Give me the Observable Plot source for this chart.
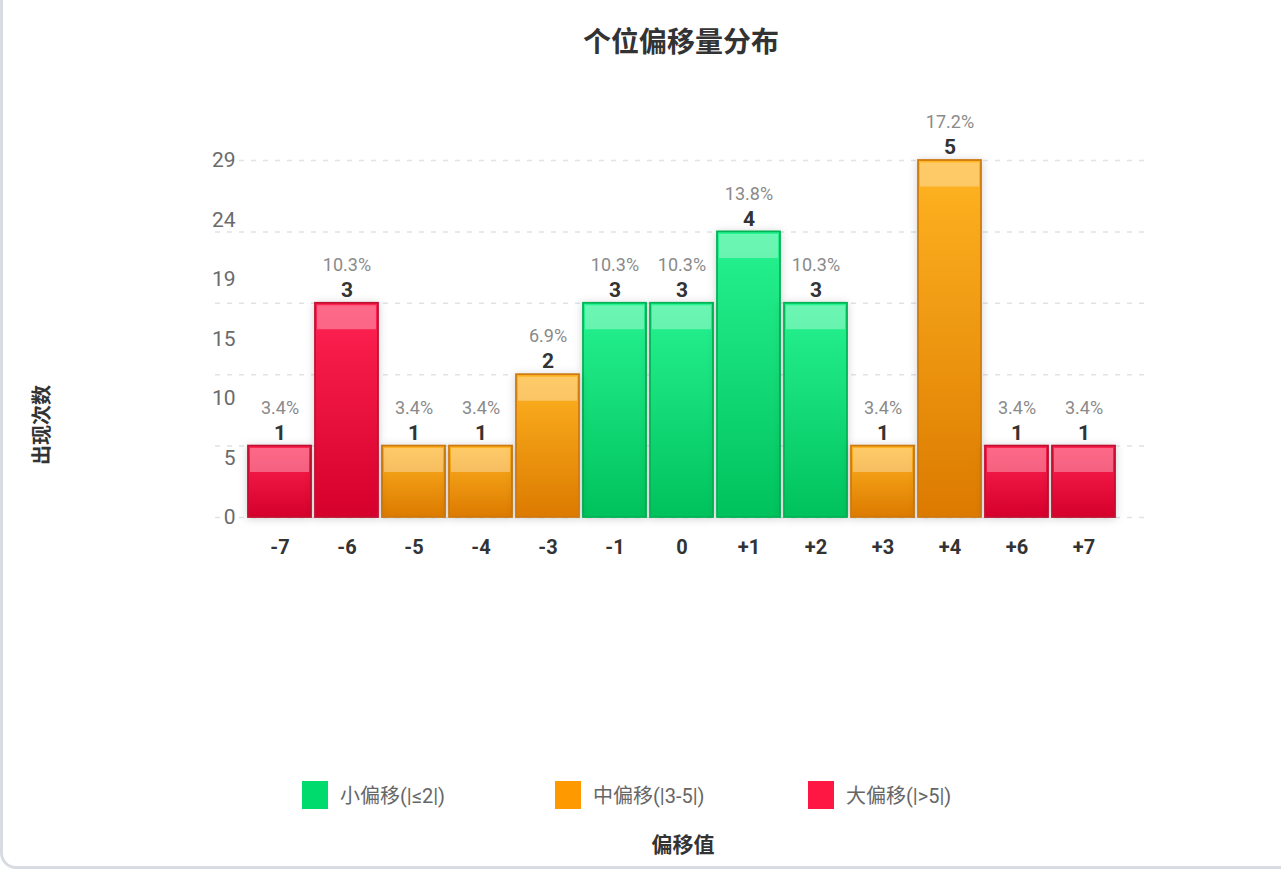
<!DOCTYPE html>
<html>
<head>
<meta charset="utf-8">
<script src="https://cdn.jsdelivr.net/npm/d3@7"></script>
<script src="https://cdn.jsdelivr.net/npm/@observablehq/plot@0.6"></script>
<style>
  html, body { margin: 0; padding: 0; background: #fff; width: 1281px; height: 869px; overflow: hidden; }
  body { position: relative; font-family: "Roboto", "Noto Sans CJK SC", sans-serif; }
  #card { position: absolute; left: 0; top: -30px; width: 1320px; height: 899px; box-sizing: border-box;
          border: 3px solid #d8dbe1; border-radius: 16px; }
  #title { position: absolute; left: 215px; width: 932px; top: 22px; text-align: center;
           font: bold 28px "Noto Sans CJK SC", sans-serif; color: #333; line-height: 36px; }
  #chart { position: absolute; left: 0; top: 0; }
  #ylabel { position: absolute; left: 40px; top: 425px; transform: translate(-50%, -50%) rotate(-90deg);
            font: bold 20px "Noto Sans CJK SC", sans-serif; color: #333; white-space: nowrap; }
  #legend { position: absolute; left: 302px; top: 780px; display: flex; }
  .item { display: flex; align-items: center; width: 253px; }
  .sw { width: 26px; height: 28px; margin-right: 12px; }
  .lt { font-size: 20px; color: #666; font-family: "Roboto", "Noto Sans CJK SC", sans-serif; }
  #xlabel { position: absolute; left: 683px; top: 843px; transform: translate(-50%, -50%);
            font: bold 21px "Noto Sans CJK SC", sans-serif; color: #333; white-space: nowrap; }
  .chart g[aria-label="bar"] rect { filter: drop-shadow(0 1px 4px rgba(0,0,0,0.18)); }
</style>
</head>
<body>
<div id="card"></div>
<div id="chart"></div>
<div id="title">个位偏移量分布</div>
<div id="ylabel">出现次数</div>
<div id="legend"></div>
<div id="xlabel">偏移值</div>
<script>
// ---- data ----
const categories = ["-7", "-6", "-5", "-4", "-3", "-1", "0", "+1", "+2", "+3", "+4", "+6", "+7"];
const counts     = [1, 3, 1, 1, 2, 3, 3, 4, 3, 1, 5, 1, 1];
const groups     = ["large", "large", "medium", "medium", "medium", "small", "small", "small", "small", "medium", "medium", "large", "large"];
const yTickLabels = [0, 5, 10, 15, 19, 24, 29];
const groupKeys   = ["small", "medium", "large"];
const legendLabels = ["小偏移(|≤2|)", "中偏移(|3-5|)", "大偏移(|>5|)"];
const legendColors = ["#00db6e", "#ff9900", "#ff1744"];

// ---- derived ----
const total = d3.sum(counts);
const maxCount = d3.max(counts);
const data = categories.map((c, i) => ({
  cat: c,
  count: counts[i],
  group: groups[i],
  v: counts[i] / maxCount * total,
  pct: (counts[i] / total * 100).toFixed(1) + "%"
}));

const gradStops = {
  small:  ["#26f391", "#00c25c"],
  medium: ["#ffb422", "#dc7a00"],
  large:  ["#ff2352", "#d5002b"]
};
const borderColors = { small: "#00b455", medium: "#cf7a10", large: "#c20f30" };

function defs() {
  const d = d3.create("svg:defs");
  for (const g of groupKeys) {
    const lg = d.append("linearGradient").attr("id", "grad-" + g)
      .attr("x1", 0).attr("y1", 0).attr("x2", 0).attr("y2", 1);
    lg.append("stop").attr("offset", "0%").attr("stop-color", gradStops[g][0]);
    lg.append("stop").attr("offset", "100%").attr("stop-color", gradStops[g][1]);
  }
  return d.node();
}

const gridValues = d3.range(0, maxCount + 1).map(k => k * total / maxCount);
const tickPos = yTickLabels.map((t, i) => ({ label: t, y: i * total / (yTickLabels.length - 1) }));

const fontNum = "'Roboto', sans-serif";

const marks = [
  defs,
  Plot.gridY(gridValues, { stroke: "#dfe3e8", strokeOpacity: 1, strokeDasharray: "5,7", strokeWidth: 1.5 }),
  Plot.text(tickPos, {
    y: "y", text: "label", frameAnchor: "left", dx: 20, textAnchor: "end",
    fill: "#6b6b6b", fontSize: 21, fontFamily: fontNum,
    stroke: "white", strokeWidth: 5
  }),
  ...groupKeys.map(g => Plot.barY(data, {
    filter: d => d.group === g,
    x: "cat", y: "v",
    fill: `url(#grad-${g})`,
    stroke: borderColors[g], strokeWidth: 1.8
  })),
  Plot.tickY(data, {
    x: "cat", y: "v", stroke: "#ffffff", strokeOpacity: 0.32,
    strokeWidth: 24, dy: 14, insetLeft: 2, insetRight: 2
  }),
  Plot.text(data, {
    x: "cat", y: "v", text: d => String(d.count), dy: -13,
    fill: "#333", fontWeight: "bold", fontSize: 21, fontFamily: fontNum
  }),
  Plot.text(data, {
    x: "cat", y: "v", text: "pct", dy: -38,
    fill: "#8a8a8a", fontSize: 18, fontFamily: fontNum
  }),
  Plot.axisX({
    tickSize: 0, tickPadding: 22, label: null,
    fontSize: 20, fontWeight: "bold", fill: "#333", fontFamily: fontNum
  })
];

const chart = Plot.plot({
  className: "chart",
  width: 1281,
  height: 580,
  marginTop: 160,
  marginBottom: 63,
  marginLeft: 215,
  marginRight: 134,
  style: { background: "transparent", fontFamily: fontNum, overflow: "visible" },
  x: { type: "band", domain: categories, paddingInner: 0.067, paddingOuter: 0.437, align: 0.5, axis: null },
  y: { domain: [0, total], axis: null },
  marks
});
document.getElementById("chart").appendChild(chart);

// legend
const legend = document.getElementById("legend");
groupKeys.forEach((g, i) => {
  const item = document.createElement("div");
  item.className = "item";
  const sw = document.createElement("div");
  sw.className = "sw";
  sw.style.background = legendColors[i];
  const t = document.createElement("span");
  t.className = "lt";
  t.textContent = legendLabels[i];
  item.appendChild(sw);
  item.appendChild(t);
  legend.appendChild(item);
});
</script>
</body>
</html>
